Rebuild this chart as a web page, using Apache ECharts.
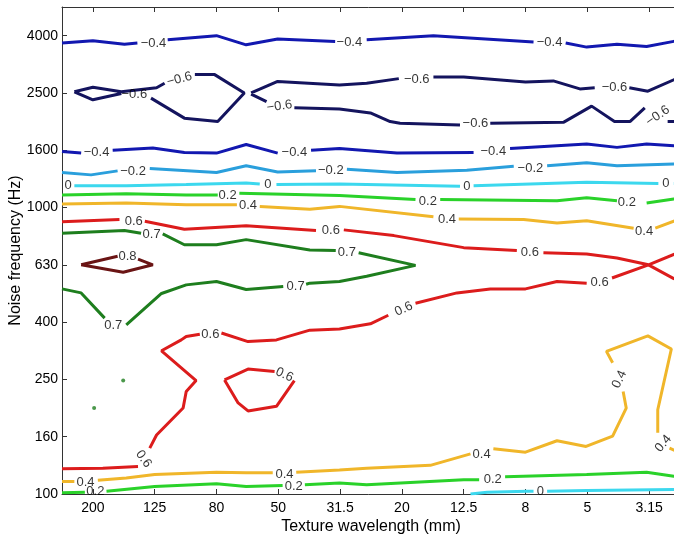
<!DOCTYPE html>
<html>
<head>
<meta charset="utf-8">
<script src="https://cdn.jsdelivr.net/npm/echarts@6/dist/echarts.min.js"></script>
<style>
  html, body { margin: 0; padding: 0; background: #fff; }
  #chart { width: 674px; height: 536px; }
</style>
</head>
<body>
<div id="chart"></div>
<script>
// axis ticks (2/3-octave bands, plotted by band index)
const wavelengthTicks = ['200', '125', '80', '50', '31.5', '20', '12.5', '8', '5', '3.15'];
const freqTicks = ['100', '160', '250', '400', '630', '1000', '1600', '2500', '4000'];

// contour lines, [wavelength index, frequency index]; each inner list is one stroke
const lvlNeg06 = [
  [[-0.30, 7.02], [0, 7.10], [0.46, 7.02], [1.03, 7.09], [1.16, 7.17]],
  [[1.65, 7.32], [1.97, 7.32], [2.45, 7.0], [2.02, 6.50], [1.48, 6.56], [0.94, 6.91]],
  [[0.46, 6.99], [0, 6.88], [-0.30, 7.02]],
  [[2.56, 7.0], [2.99, 7.20], [3.99, 7.14], [4.43, 7.17], [4.95, 7.25]],
  [[5.51, 7.28], [6.0, 7.28], [7.0, 7.19], [7.45, 7.21], [7.88, 7.07], [8.12, 7.09]],
  [[8.68, 7.09], [8.98, 7.03], [9.4, 7.23], [9.5, 7.28]],
  [[2.56, 6.98], [2.81, 6.85]],
  [[3.26, 6.74], [3.99, 6.72], [4.49, 6.65], [4.81, 6.50], [4.97, 6.47], [5.94, 6.44]],
  [[6.43, 6.47], [7.62, 6.49], [8.07, 6.77], [8.44, 6.50], [8.69, 6.50], [8.93, 6.74]],
  [[9.30, 6.50], [9.5, 6.50]]
];
const lvlNeg04 = [
  [[-0.5, 7.87], [0, 7.91], [0.51, 7.85], [0.72, 7.87]],
  [[1.21, 7.93], [2.0, 8.0], [2.48, 7.84], [2.99, 7.94], [3.92, 7.90]],
  [[4.43, 7.93], [5.51, 8.0], [7.13, 7.89]],
  [[7.65, 7.87], [7.99, 7.80], [8.48, 7.85], [8.96, 7.81], [9.4, 7.90], [9.5, 7.92]],
  [[-0.5, 5.98], [-0.19, 5.95]],
  [[0.32, 6.0], [0.97, 6.04], [1.48, 5.96], [2.0, 5.95], [2.48, 6.10], [2.99, 5.95]],
  [[3.53, 6.0], [3.99, 6.03], [4.92, 5.95], [6.16, 5.96]],
  [[6.75, 6.03], [7.99, 6.11], [8.48, 6.05], [8.96, 6.11], [9.4, 6.08], [9.5, 6.08]]
];
const lvlNeg02 = [
  [[-0.5, 5.61], [-0.03, 5.57], [0.40, 5.64]],
  [[0.92, 5.68], [2.0, 5.61], [2.48, 5.73], [2.99, 5.62], [3.61, 5.64]],
  [[4.11, 5.67], [4.92, 5.61], [6.05, 5.65], [6.81, 5.72]],
  [[7.35, 5.73], [7.99, 5.78], [8.48, 5.73], [9.4, 5.76], [9.5, 5.76]]
];
const lvlZero = [
  [[-0.30, 5.38], [0.54, 5.38], [1.51, 5.40], [2.48, 5.43], [2.70, 5.41]],
  [[2.97, 5.40], [3.99, 5.41], [5.94, 5.37]],
  [[6.16, 5.38], [7.99, 5.44], [9.15, 5.42]],
  [[9.40, 5.42], [9.5, 5.42]],
  [[6.11, 0.0], [6.38, 0.03], [7.02, 0.05], [7.13, 0.05]],
  [[7.35, 0.05], [7.99, 0.06], [9.4, 0.08], [9.5, 0.08]]
];
const lvlPos02 = [
  [[-0.5, 5.22], [0.54, 5.24], [1.51, 5.22], [2.02, 5.22]],
  [[2.37, 5.25], [3.99, 5.21], [5.22, 5.14]],
  [[5.62, 5.14], [7.51, 5.12], [7.99, 5.17], [8.48, 5.12]],
  [[8.96, 5.08], [9.4, 5.15], [9.5, 5.16]],
  [[-0.5, 0.02], [-0.13, 0.03]],
  [[0.22, 0.05], [1.0, 0.13], [2.0, 0.18], [2.48, 0.13], [3.07, 0.15]],
  [[3.43, 0.16], [3.99, 0.19], [4.43, 0.16], [6.0, 0.25], [6.25, 0.25]],
  [[6.67, 0.30], [7.99, 0.34], [8.96, 0.38], [9.4, 0.31], [9.5, 0.30]]
];
const lvlPos04 = [
  [[-0.5, 5.06], [0.54, 5.08], [1.51, 5.05], [2.33, 5.05]],
  [[2.70, 5.02], [3.51, 4.97], [3.99, 5.02], [5.51, 4.84]],
  [[5.92, 4.80], [6.97, 4.79], [7.51, 4.73], [7.99, 4.77], [8.75, 4.64]],
  [[9.10, 4.64], [9.4, 4.76], [9.5, 4.80]],
  [[-0.5, 0.22], [-0.30, 0.22]],
  [[0.08, 0.24], [0.54, 0.28], [1.0, 0.34], [2.0, 0.38], [2.48, 0.37], [2.91, 0.37]],
  [[3.29, 0.38], [3.99, 0.42], [4.43, 0.45], [5.46, 0.50], [6.11, 0.70]],
  [[6.48, 0.79], [7.0, 0.73], [7.51, 0.93], [7.98, 0.83], [8.41, 1.01], [8.63, 1.50], [8.58, 1.79]],
  [[8.41, 2.29], [8.31, 2.49], [8.98, 2.76], [9.36, 2.53], [9.14, 1.47], [9.14, 1.07]],
  [[9.33, 0.80], [9.5, 0.72]]
];
const lvlPos06 = [
  [[-0.5, 4.75], [0.43, 4.79]],
  [[0.84, 4.76], [1.48, 4.62], [2.48, 4.68], [3.61, 4.60]],
  [[4.06, 4.61], [4.87, 4.51], [6.0, 4.30], [6.86, 4.25]],
  [[7.29, 4.21], [7.99, 4.19], [8.48, 4.12], [8.99, 4.0], [9.4, 3.76], [9.5, 3.72]],
  [[-0.5, 0.44], [0.16, 0.45], [0.73, 0.48]],
  [[0.92, 0.80], [1.03, 1.03], [1.46, 1.50], [1.51, 1.79], [1.67, 1.98], [1.11, 2.50], [1.43, 2.69], [1.51, 2.75], [1.73, 2.79]],
  [[2.08, 2.81], [2.51, 2.66], [2.97, 2.69], [3.51, 2.86], [3.99, 2.88], [4.49, 2.97], [4.78, 3.12]],
  [[5.22, 3.33], [5.89, 3.51], [6.43, 3.58], [7.0, 3.58], [7.51, 3.71], [7.99, 3.68]],
  [[8.40, 3.77], [8.99, 4.0], [9.4, 4.18], [9.5, 4.22]],
  [[2.13, 1.99], [2.51, 2.18], [2.94, 2.14]],
  [[3.26, 1.98], [2.97, 1.53], [2.51, 1.45], [2.35, 1.59], [2.13, 1.99]]
];
const lvlPos07 = [
  [[-0.5, 4.55], [0.51, 4.60], [0.78, 4.55]],
  [[1.13, 4.54], [1.48, 4.35], [2.0, 4.35], [2.48, 4.44], [3.51, 4.26], [3.93, 4.25]],
  [[4.30, 4.21], [5.22, 3.99], [4.43, 3.80], [3.99, 3.71], [3.51, 3.68], [3.45, 3.66]],
  [[3.08, 3.62], [2.48, 3.57], [2.0, 3.71], [1.51, 3.65], [1.11, 3.50], [0.54, 2.95]],
  [[0.19, 3.07], [-0.19, 3.51], [-0.5, 3.58]]
];
const lvlPos08 = [
  [[-0.19, 4.0], [0.40, 4.15]],
  [[0.73, 4.10], [0.97, 4.0], [0.49, 3.87], [-0.19, 4.0]]
];
const dotsPos07 = [[0.49, 1.98], [0.02, 1.50]];

// contour labels: [x, y, text, angle]
const contourLabels = [
  [0.98, 7.86, '\u22120.4', 0], [4.15, 7.89, '\u22120.4', 0], [7.39, 7.88, '\u22120.4', 0],
  [1.40, 7.24, '\u22120.6', 15], [0.67, 6.97, '\u22120.6', 0], [3.02, 6.77, '\u22120.6', 8],
  [5.24, 7.23, '\u22120.6', 0], [6.19, 6.46, '\u22120.6', 0], [8.44, 7.09, '\u22120.6', 0],
  [9.14, 6.60, '\u22120.6', 35],
  [0.06, 5.96, '\u22120.4', 0], [3.26, 5.97, '\u22120.4', 0], [6.48, 5.98, '\u22120.4', 0],
  [0.65, 5.63, '\u22120.2', 0], [3.85, 5.64, '\u22120.2', 0], [7.08, 5.69, '\u22120.2', 0],
  [-0.40, 5.39, '0', 0], [2.83, 5.40, '0', 0], [6.05, 5.37, '0', 0], [9.27, 5.42, '0', 0],
  [2.18, 5.22, '0.2', 0], [5.42, 5.11, '0.2', 0], [8.64, 5.09, '0.2', 0],
  [2.51, 5.03, '0.4', 0], [5.73, 4.80, '0.4', 0], [8.92, 4.58, '0.4', 0],
  [0.66, 4.75, '0.6', 0], [3.85, 4.60, '0.6', 0], [7.07, 4.22, '0.6', 0],
  [0.95, 4.53, '0.7', 0], [4.11, 4.22, '0.7', 0], [0.56, 4.14, '0.8', 0],
  [3.28, 3.62, '0.7', 0], [0.33, 2.95, '0.7', 0],
  [1.90, 2.79, '0.6', 0], [5.03, 3.23, '0.6', 25], [8.20, 3.70, '0.6', 0],
  [3.10, 2.08, '0.6', -25], [0.82, 0.61, '0.6', -55],
  [-0.12, 0.20, '0.4', 0], [3.10, 0.35, '0.4', 0], [6.29, 0.69, '0.4', 0],
  [8.52, 2.00, '0.4', 65], [9.23, 0.88, '0.4', 50],
  [0.04, 0.04, '0.2', 0], [3.25, 0.13, '0.2', 0], [6.47, 0.25, '0.2', 0],
  [7.24, 0.04, '0', 0]
];

const levels = [
  { segs: lvlNeg06, color: '#14145e' },
  { segs: lvlNeg04, color: '#1218b0' },
  { segs: lvlNeg02, color: '#2a9fdc' },
  { segs: lvlZero, color: '#3cd8ee' },
  { segs: lvlPos02, color: '#2ad22a' },
  { segs: lvlPos04, color: '#f0b62a' },
  { segs: lvlPos06, color: '#dc1c1c' },
  { segs: lvlPos07, color: '#1e7e1e' },
  { segs: lvlPos08, color: '#6a1414' }
];

// join strokes with empty points so the line breaks between them
function strokes(segs) {
  const out = [];
  segs.forEach((s, i) => {
    if (i > 0) out.push(['-', '-']);
    s.forEach((p) => out.push(p));
  });
  return out;
}

const font = 'Liberation Sans, Arial, Helvetica, sans-serif';
const ticksX = wavelengthTicks.map((t, i) => i);
const ticksY = freqTicks.map((t, i) => i);

const series = levels.map((lv) => ({
  type: 'line',
  data: strokes(lv.segs),
  showSymbol: false,
  symbol: 'none',
  connectNulls: false,
  lineStyle: { color: lv.color, width: 3 },
  animation: false,
  z: 2
}));

series.push({
  type: 'scatter',
  data: dotsPos07,
  symbolSize: 4,
  itemStyle: { color: '#1e7e1e' },
  animation: false,
  z: 3
});

series.push({
  type: 'scatter',
  data: contourLabels.map((l) => ({
    value: [l[0], l[1]],
    name: l[2],
    label: { rotate: l[3] }
  })),
  symbolSize: 1,
  itemStyle: { color: 'rgba(0,0,0,0)' },
  label: {
    show: true,
    position: 'inside',
    formatter: '{b}',
    color: '#000',
    fontSize: 13,
    fontFamily: font
  },
  silent: true,
  animation: false,
  z: 5
});

const frameLine = { show: true, onZero: false, lineStyle: { color: '#333', width: 1 } };

const option = {
  backgroundColor: '#fff',
  animation: false,
  grid: { left: 62, top: 7, width: 618, height: 487, outerBoundsMode: 'none' },
  xAxis: [
    {
      type: 'value', min: -0.5, max: 9.5, position: 'bottom',
      axisLine: frameLine,
      axisTick: { show: true, inside: true, length: 5, customValues: ticksX, lineStyle: { color: '#333' } },
      axisLabel: {
        customValues: ticksX,
        formatter: (v) => wavelengthTicks[Math.round(v)],
        color: '#000', fontSize: 14, fontFamily: font, margin: 7
      },
      splitLine: { show: false },
      name: 'Texture wavelength (mm)',
      nameLocation: 'middle',
      nameGap: 25,
      nameMoveOverlap: false,
      nameTextStyle: { color: '#000', fontSize: 16, fontFamily: font }
    },
    {
      type: 'value', min: -0.5, max: 9.5, position: 'top',
      axisLine: frameLine,
      axisTick: { show: true, inside: true, length: 5, customValues: ticksX, lineStyle: { color: '#333' } },
      axisLabel: { show: false },
      splitLine: { show: false }
    }
  ],
  yAxis: [
    {
      type: 'value', min: 0, max: 8.5, position: 'left',
      axisLine: frameLine,
      axisTick: { show: true, inside: true, length: 5, customValues: ticksY, lineStyle: { color: '#333' } },
      axisLabel: {
        customValues: ticksY,
        formatter: (v) => freqTicks[Math.round(v)],
        color: '#000', fontSize: 14, fontFamily: font, margin: 4
      },
      splitLine: { show: false },
      name: 'Noise frequency (Hz)',
      nameLocation: 'middle',
      nameGap: 38,
      nameMoveOverlap: false,
      nameTextStyle: { color: '#000', fontSize: 16, fontFamily: font }
    },
    {
      type: 'value', min: 0, max: 8.5, position: 'right',
      axisLine: frameLine,
      axisTick: { show: false },
      axisLabel: { show: false },
      splitLine: { show: false }
    }
  ],
  series: series
};

const myChart = echarts.init(document.getElementById('chart'), null, { renderer: 'canvas' });
myChart.setOption(option);
</script>
</body>
</html>
